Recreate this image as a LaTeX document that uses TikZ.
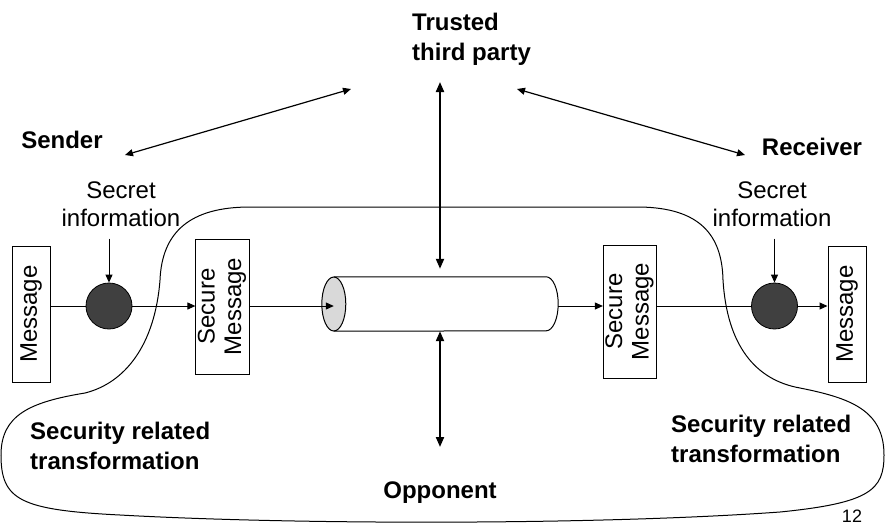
\documentclass[tikz,border=0pt]{standalone}
\usepackage{fontspec}
\setmainfont{Liberation Sans}
\usepackage{graphicx}
\usetikzlibrary{arrows.meta,positioning,calc}

\begin{document}
\begin{tikzpicture}[
  x=1pt, y=-1pt,
  >={Triangle[length=8pt,width=7pt]},
  every node/.style={font=\fontsize{24}{28}\selectfont},
  title/.style={font=\fontsize{24}{30}\selectfont\bfseries, inner sep=0pt},
  info/.style={align=center, inner sep=0pt},
  msgbox/.style={rectangle, draw, line width=1pt, inner sep=0pt,
    minimum width=38pt, minimum height=136pt},
  secbox/.style={rectangle, draw, line width=1pt, inner sep=0pt,
    minimum width=46pt, minimum height=135pt},
  enc/.style={circle, draw, line width=0.8pt, fill=black!75,
    minimum size=46pt, inner sep=0pt},
  flow/.style={draw, line width=1pt},
  link/.style={draw, line width=1.2pt, <->},
  attack/.style={draw, line width=2pt, <->, >={Triangle[length=10pt,width=8pt]}},
  boundary/.style={draw, line width=1pt},
]
  \useasboundingbox (0,0) rectangle (886,528);
  % parties
  \node[title, align=left, anchor=west] (ttp) at (412,39) {Trusted\\third party};
  \node[title] (sender) at (62,140) {Sender};
  \node[title] (receiver) at (812,147) {Receiver};
  \node[info] (secretL) at (121,204) {Secret\\information};
  \node[info] (secretR) at (772,204) {Secret\\information};
  % message path
  \node[msgbox] (msgL) at (31,314) {\rotatebox{90}{Message}};
  \node[enc] (encL) at (109,306) {};
  \node[secbox] (secL) at (222.5,306.5)
    {\rotatebox{90}{\renewcommand{\arraystretch}{0.95}\begin{tabular}{@{}c@{}}Secure\\Message\end{tabular}}};
  \node[minimum width=212pt, minimum height=54pt, inner sep=0pt] (pipe) at (440,304) {};
  \node[secbox, minimum height=133pt] (secR) at (630,311.5)
    {\rotatebox{90}{\renewcommand{\arraystretch}{0.95}\begin{tabular}{@{}c@{}}Secure\\Message\end{tabular}}};
  \node[enc] (encR) at (774.5,306) {};
  \node[msgbox] (msgR) at (847,314) {\rotatebox{90}{Message}};
  % channel
  \fill[black!15] (pipe.west) ellipse[x radius=12pt, y radius=27pt];
  \draw[line width=1pt] (pipe.west) ellipse[x radius=12pt, y radius=27pt];
  \draw[line width=1pt] (pipe.north west) -- (pipe.north east)
    arc[start angle=90, end angle=-90, x radius=12pt, y radius=27pt] -- (pipe.south west);
  \coordinate (pipeR) at ([xshift=12pt]pipe.east);
  \coordinate (keyL) at ($(encL |- secretL.south)+(0,12)$);
  \coordinate (keyR) at ($(encR |- secretR.south)+(0,12)$);
  \draw[flow] (msgL.east |- encL) -- (encL);
  \draw[flow, ->] (encL) -- (secL.west |- encL);
  \draw[flow, ->] (secL.east |- encL) -- (pipe.west |- encL);
  \draw[flow, ->] (pipeR |- encL) -- (secR.west |- encL);
  \draw[flow] (secR.east |- encR) -- (encR);
  \draw[flow, ->] (encR) -- (msgR.west |- encR);
  \draw[flow, ->] (keyL) -- (encL);
  \draw[flow, ->] (keyR) -- (encR);
  % trusted party and opponent
  \coordinate (sndTip) at (125,155);
  \coordinate (ttpTipL) at (351,89);
  \coordinate (ttpTipR) at (517,89);
  \coordinate (rcvTip) at (745,155);
  \coordinate (ttpTipV) at (440,82);
  \coordinate (oppTip) at (440,447);
  \draw[link] (sndTip) -- (ttpTipL);
  \draw[link] (ttpTipR) -- (rcvTip);
  \draw[attack, shorten >=8pt] (ttpTipV) -- (pipe.north);
  \draw[attack] (pipe.south) -- (oppTip);
  % transformation boundary
  \draw[boundary] (250,207) -- (640,207)
    .. controls (700,208) and (722,235) .. (723,280)
    .. controls (727,345) and (755,380) .. (800,388)
    .. controls (850,398) and (884,410) .. (884,455)
    .. controls (884,490) and (870,503) .. (780,512)
    .. controls (600,525) and (300,525) .. (120,515)
    .. controls (20,510) and (1,500) .. (1,455)
    .. controls (1,415) and (30,402) .. (85,393)
    .. controls (125,383) and (155,345) .. (160,280)
    .. controls (162,232) and (190,207) .. (250,207) -- cycle;
  \node[title, align=left, anchor=west] (secrelL) at (30,446) {Security related\\transformation};
  \node[title, align=left, anchor=west] (secrelR) at (671,439) {Security related\\transformation};
  \node[title] (opponent) at (440,493) {Opponent};
  \node[font=\fontsize{18}{20}\selectfont, inner sep=0pt] (page) at (852,516) {12};
\end{tikzpicture}
\end{document}
